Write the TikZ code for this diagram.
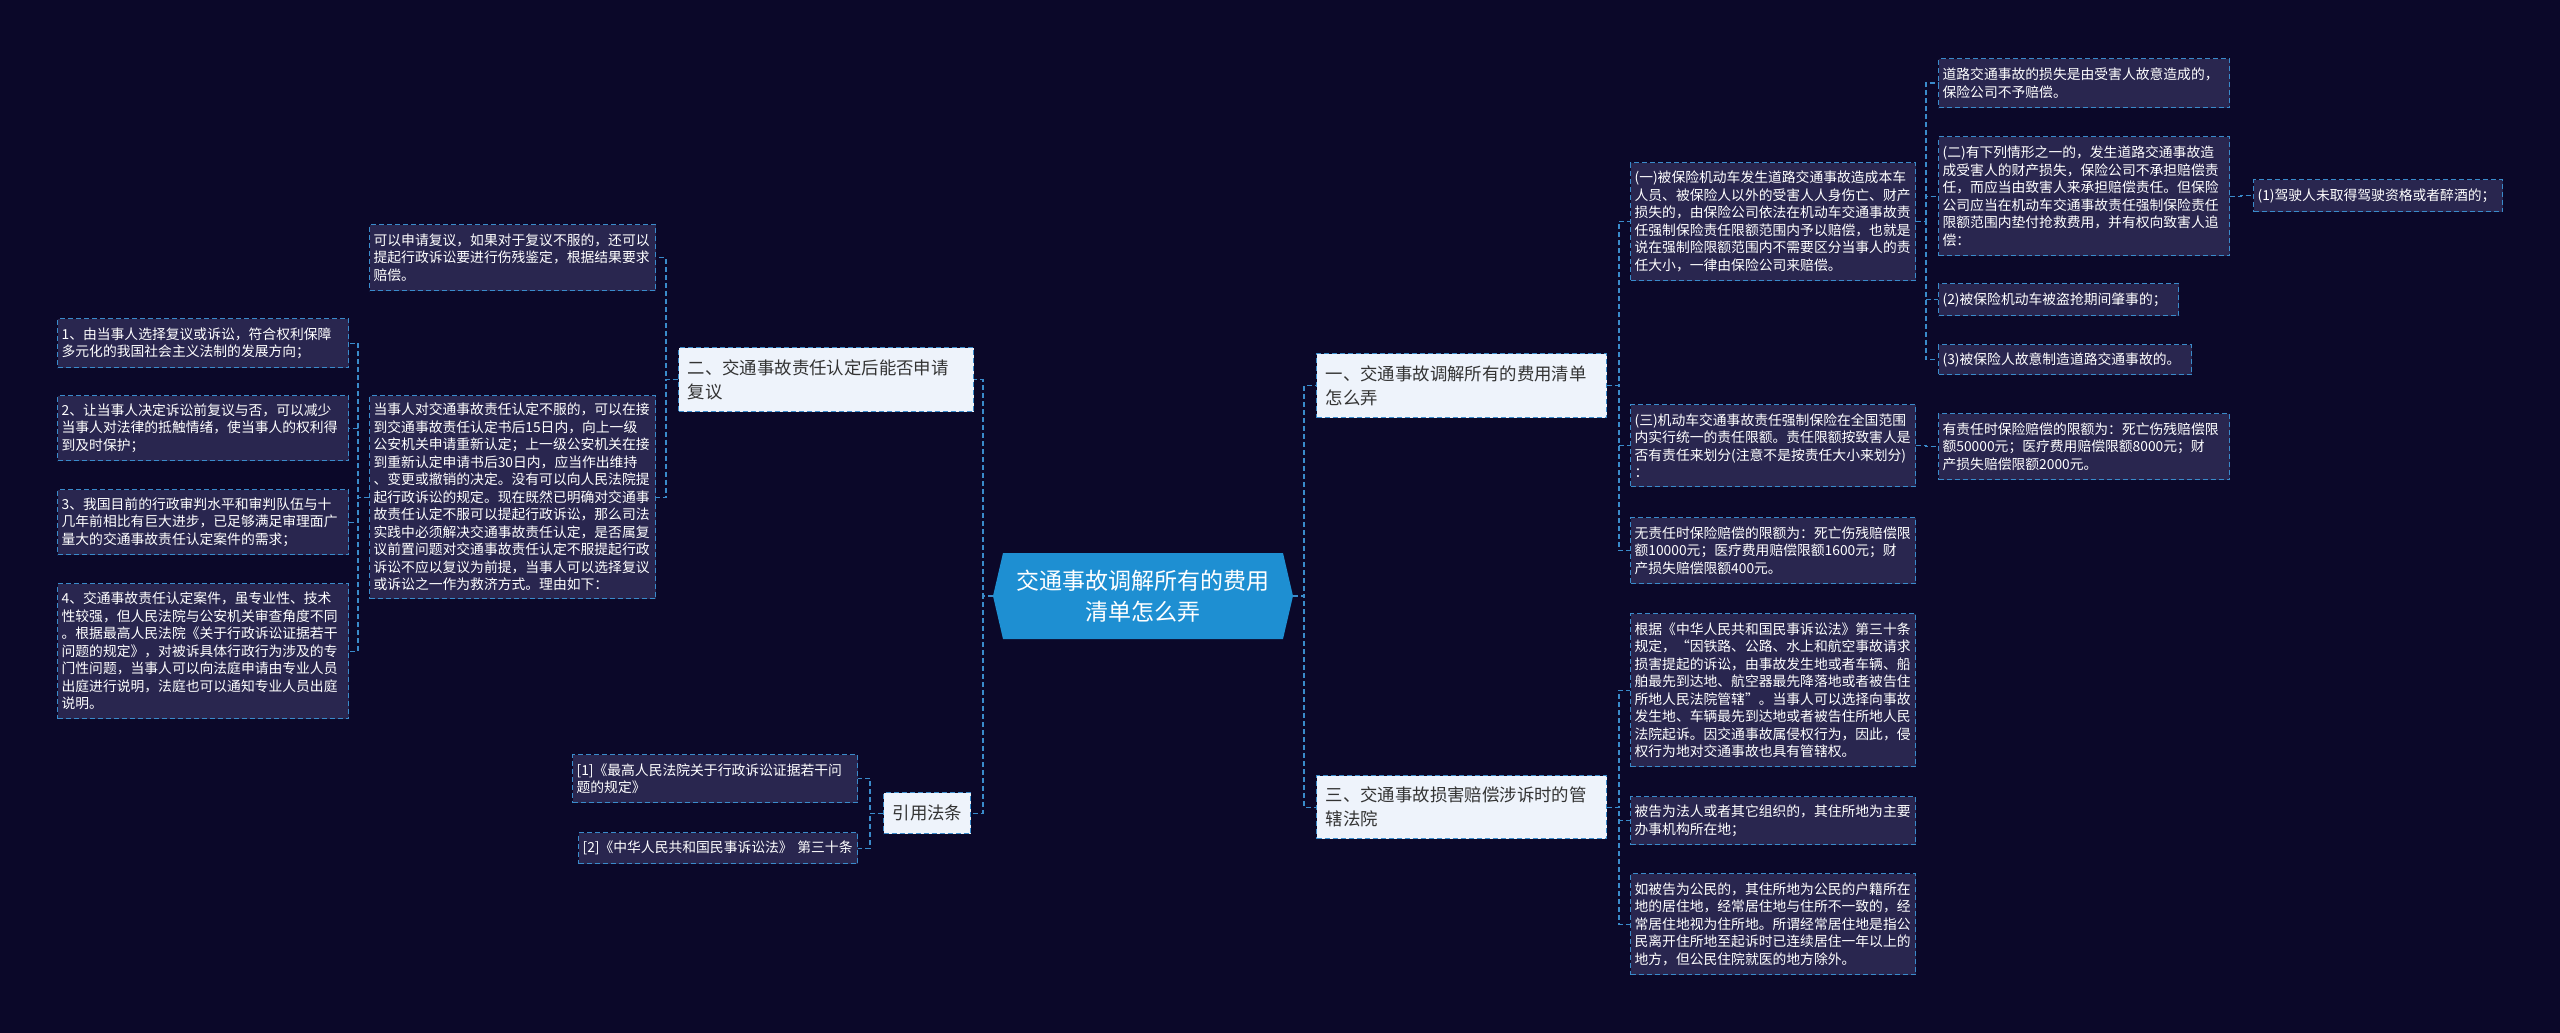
\documentclass[tikz,border=0pt]{standalone}
\usepackage{fontspec}
\setmainfont{Noto Sans CJK SC}
\definecolor{bgc}{HTML}{0B0829}
\definecolor{leaffill}{HTML}{29264F}
\definecolor{lineblue}{HTML}{3A8BCB}
\definecolor{branchfill}{HTML}{EEF3FB}
\definecolor{branchtext}{HTML}{333333}
\definecolor{rootblue}{HTML}{1E8FD2}
\tikzset{
  leaf/.style={draw=lineblue, dash pattern=on 5pt off 3pt, line width=1.2pt, fill=leaffill, text=white,
    font={\fontsize{13.8}{17.5}\selectfont}, align=left, inner xsep=4pt, inner ysep=0pt, anchor=north west},
  branch/.style={draw=lineblue, dash pattern=on 5pt off 3pt, line width=1.2pt, fill=branchfill, text=branchtext,
    font={\fontsize{17.4}{24}\selectfont}, align=left, inner xsep=9pt, inner ysep=0pt, anchor=north west},
  conn/.style={draw=lineblue, dash pattern=on 5pt off 3pt, line width=1.2pt},
  rootnode/.style={minimum width=300pt, minimum height=86pt, inner sep=0pt, text=white, align=center,
    font={\fontsize{23}{31}\selectfont},
    path picture={\fill[rootblue] ([xshift=10pt]path picture bounding box.north west)
      -- ([xshift=-10pt]path picture bounding box.north east) -- (path picture bounding box.east)
      -- ([xshift=-10pt]path picture bounding box.south east) -- ([xshift=10pt]path picture bounding box.south west)
      -- (path picture bounding box.west) -- cycle;}}
}
\begin{document}
\begin{tikzpicture}[x=1pt,y=-1pt]
\fill[bgc] (0,0) rectangle (2560,1033);
\useasboundingbox (0,0) rectangle (2560,1033);

% root
\node[rootnode] (root) at (1143,596) {交通事故调解所有的费用\\清单怎么弄};

% branches
\node[branch, text width=277pt, minimum height=64pt] (b2) at (678,347) {二、交通事故责任认定后能否申请\\复议};
\node[branch, text width=69pt, minimum height=41pt, align=center, inner xsep=9pt] (by) at (883,792) {引用法条};
\node[branch, text width=272pt, minimum height=64pt] (b1) at (1316,353) {一、交通事故调解所有的费用清单\\怎么弄};
\node[branch, text width=272pt, minimum height=63pt] (b3) at (1316,775) {三、交通事故损害赔偿涉诉时的管\\辖法院};

% left leaves
\node[leaf, text width=278pt, minimum height=66pt] (ka) at (369,224) {可以申请复议，如果对于复议不服的，还可以\\提起行政诉讼要进行伤残鉴定，根据结果要求\\赔偿。};
\node[leaf, text width=278pt, minimum height=203pt] (dsr) at (369,395) {当事人对交通事故责任认定不服的，可以在接\\到交通事故责任认定书后15日内，向上一级\\公安机关申请重新认定；上一级公安机关在接\\到重新认定申请书后30日内，应当作出维持\\、变更或撤销的决定。没有可以向人民法院提\\起行政诉讼的规定。现在既然已明确对交通事\\故责任认定不服可以提起行政诉讼，那么司法\\实践中必须解决交通事故责任认定，是否属复\\议前置问题对交通事故责任认定不服提起行政\\诉讼不应以复议为前提，当事人可以选择复议\\或诉讼之一作为救济方式。理由如下：};
\node[leaf, text width=283pt, minimum height=49pt] (d1) at (57,318) {1、由当事人选择复议或诉讼，符合权利保障\\多元化的我国社会主义法制的发展方向；};
\node[leaf, text width=283pt, minimum height=65pt] (d2) at (57,395) {2、让当事人决定诉讼前复议与否，可以减少\\当事人对法律的抵触情绪，使当事人的权利得\\到及时保护；};
\node[leaf, text width=283pt, minimum height=65pt] (d3) at (57,489) {3、我国目前的行政审判水平和审判队伍与十\\几年前相比有巨大进步，已足够满足审理面广\\量大的交通事故责任认定案件的需求；};
\node[leaf, text width=283pt, minimum height=135pt] (d4) at (57,583) {4、交通事故责任认定案件，虽专业性、技术\\性较强，但人民法院与公安机关审查角度不同\\。根据最高人民法院《关于行政诉讼证据若干\\问题的规定》，对被诉具体行政行为涉及的专\\门性问题，当事人可以向法庭申请由专业人员\\出庭进行说明，法庭也可以通知专业人员出庭\\说明。};
\node[leaf, text width=277pt, minimum height=48pt] (r1) at (572,754) {[1]《最高人民法院关于行政诉讼证据若干问\\题的规定》};
\node[leaf, text width=271pt, minimum height=31pt] (r2) at (578,832) {[2]《中华人民共和国民事诉讼法》 第三十条};

% right leaves
\node[leaf, text width=277pt, minimum height=118pt] (a1) at (1630,162) {(一)被保险机动车发生道路交通事故造成本车\\人员、被保险人以外的受害人人身伤亡、财产\\损失的，由保险公司依法在机动车交通事故责\\任强制保险责任限额范围内予以赔偿，也就是\\说在强制险限额范围内不需要区分当事人的责\\任大小，一律由保险公司来赔偿。};
\node[leaf, text width=277pt, minimum height=82pt] (a3) at (1630,404) {(三)机动车交通事故责任强制保险在全国范围\\内实行统一的责任限额。责任限额按致害人是\\否有责任来划分(注意不是按责任大小来划分)\\：};
\node[leaf, text width=277pt, minimum height=66pt] (a4) at (1630,517) {无责任时保险赔偿的限额为：死亡伤残赔偿限\\额10000元；医疗费用赔偿限额1600元；财\\产损失赔偿限额400元。};
\node[leaf, text width=277pt, minimum height=153pt] (c1) at (1630,613) {根据《中华人民共和国民事诉讼法》第三十条\\规定，“因铁路、公路、水上和航空事故请求\\损害提起的诉讼，由事故发生地或者车辆、船\\舶最先到达地、航空器最先降落地或者被告住\\所地人民法院管辖”。当事人可以选择向事故\\发生地、车辆最先到达地或者被告住所地人民\\法院起诉。因交通事故属侵权行为，因此，侵\\权行为地对交通事故也具有管辖权。};
\node[leaf, text width=277pt, minimum height=48pt] (c2) at (1630,796) {被告为法人或者其它组织的，其住所地为主要\\办事机构所在地；};
\node[leaf, text width=277pt, minimum height=101pt] (c3) at (1630,873) {如被告为公民的，其住所地为公民的户籍所在\\地的居住地，经常居住地与住所不一致的，经\\常居住地视为住所地。所谓经常居住地是指公\\民离开住所地至起诉时已连续居住一年以上的\\地方，但公民住院就医的地方除外。};
\node[leaf, text width=283pt, minimum height=49pt] (e1) at (1938,58) {道路交通事故的损失是由受害人故意造成的，\\保险公司不予赔偿。};
\node[leaf, text width=283pt, minimum height=119pt] (e2) at (1938,136) {(二)有下列情形之一的，发生道路交通事故造\\成受害人的财产损失，保险公司不承担赔偿责\\任，而应当由致害人来承担赔偿责任。但保险\\公司应当在机动车交通事故责任强制保险责任\\限额范围内垫付抢救费用，并有权向致害人追\\偿：};
\node[leaf, text width=232pt, minimum height=32pt] (e3) at (1938,283) {(2)被保险机动车被盗抢期间肇事的；};
\node[leaf, text width=245pt, minimum height=30pt] (e4) at (1938,344) {(3)被保险人故意制造道路交通事故的。};
\node[leaf, text width=241pt, minimum height=32pt] (f1) at (2253,179) {(1)驾驶人未取得驾驶资格或者醉酒的；};
\node[leaf, text width=283pt, minimum height=66pt] (g1) at (1938,413) {有责任时保险赔偿的限额为：死亡伤残赔偿限\\额50000元；医疗费用赔偿限额8000元；财\\产损失赔偿限额2000元。};

% trunk coordinates
\coordinate (tR) at (1304,0);
\coordinate (tL) at (983,0);
\coordinate (t2) at (666,0);
\coordinate (tD) at (358,0);
\coordinate (tY) at (870,0);
\coordinate (t1) at (1619,0);
\coordinate (t3) at (1619,0);
\coordinate (tA) at (1926,0);
\coordinate (tB) at (2241,0);
\coordinate (tC) at (1926,0);

% connectors
\foreach \c in {b1,b3} \draw[conn] (root.east) -- (root.east -| tR) |- (\c.west);
\foreach \c in {b2,by} \draw[conn] (root.west) -- (root.west -| tL) |- (\c.east);
\foreach \c in {ka,dsr} \draw[conn] (b2.west) -- (b2.west -| t2) |- (\c.east);
\foreach \c in {d1,d2,d3,d4} \draw[conn] (dsr.west) -- (dsr.west -| tD) |- (\c.east);
\foreach \c in {r1,r2} \draw[conn] (by.west) -- (by.west -| tY) |- (\c.east);
\foreach \c in {a1,a3,a4} \draw[conn] (b1.east) -- (b1.east -| t1) |- (\c.west);
\foreach \c in {c1,c2,c3} \draw[conn] (b3.east) -- (b3.east -| t3) |- (\c.west);
\foreach \c in {e1,e2,e3,e4} \draw[conn] (a1.east) -- (a1.east -| tA) |- (\c.west);
\draw[conn] (e2.east) -- (e2.east -| tB) |- (f1.west);
\draw[conn] (a3.east) -- (a3.east -| tC) |- (g1.west);
\end{tikzpicture}
\end{document}
